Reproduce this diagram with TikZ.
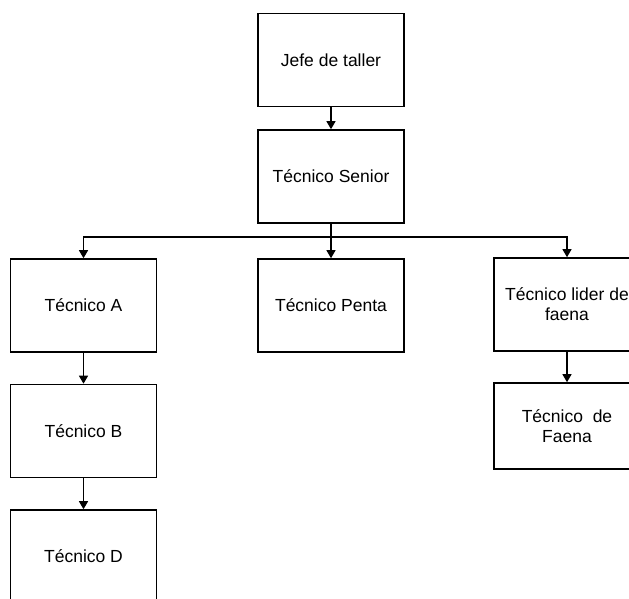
\documentclass[tikz,border=0pt]{standalone}
\usepackage{fontspec}
\setmainfont{Liberation Sans}
\usetikzlibrary{arrows.meta}
\tikzset{
  puesto/.style={draw, line width=1.6pt, minimum width=146pt, minimum height=93pt,
    inner sep=0pt, align=center, font=\fontsize{17.5}{20}\selectfont},
  flecha/.style={line width=1.2pt, -{Triangle[width=9pt,length=8pt]}}
}
\begin{document}
\begin{tikzpicture}[x=10pt,y=-10pt]
                \useasboundingbox (0,0) rectangle (62.9,59.8);
                \node[puesto] (J) at (33.1,6.0) {Jefe de taller};
                \node[puesto] (S) at (33.1,17.65) {Técnico Senior};
                \draw[flecha] (J) -- (S);

                \coordinate (bus) at (33.1,23.7);
                \node[puesto] (A) at (8.35,30.55) {Técnico A};
                \node[puesto] (P) at (33.1,30.55) {Técnico Penta};
                \node[puesto] (L) at (56.7,30.45) {Técnico lider de\\faena};
                \draw[flecha] (S) -- (P);
                \draw[flecha] (bus) -| (A.north);
                \draw[flecha] (bus) -| (L.north);

                \node[puesto] (B) at (8.35,43.1) {Técnico B};
                \node[puesto] (D) at (8.35,55.65) {Técnico D};
                \draw[flecha] (A) -- (B);
                \draw[flecha] (B) -- (D);

                \node[puesto, minimum height=86pt] (F) at (56.7,42.6) {Técnico~ de\\Faena};
                \draw[flecha] (L) -- (F);
            \end{tikzpicture}
\end{document}
